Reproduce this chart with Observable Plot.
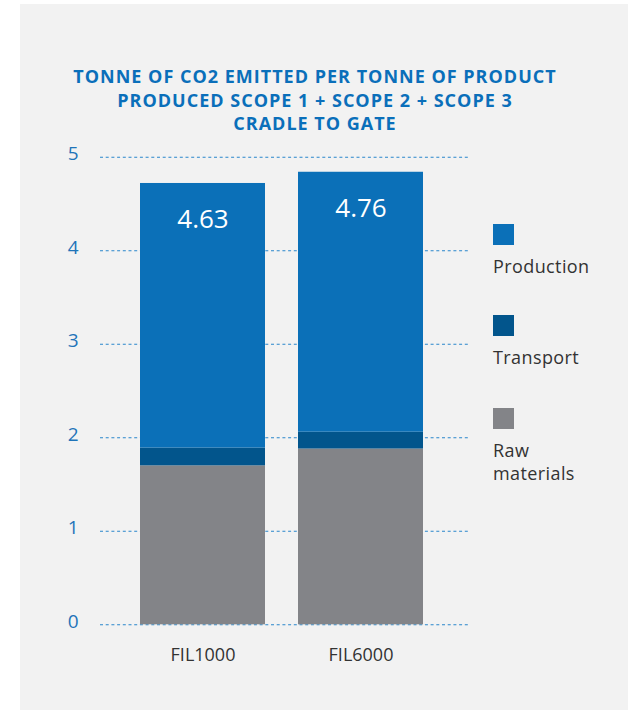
<!DOCTYPE html>
<html>
<head>
<meta charset="utf-8">
<script src="https://cdn.jsdelivr.net/npm/d3@7"></script>
<script src="https://cdn.jsdelivr.net/npm/@observablehq/plot@0.6"></script>
<style>
  html, body { margin: 0; padding: 0; background: #ffffff; }
  body { width: 628px; height: 710px; position: relative; overflow: hidden; font-family: "Open Sans", "Noto Sans", sans-serif; }
  #panel { position: absolute; left: 20px; top: 4px; width: 608px; height: 706px; background: #f2f2f2; }
  #title { position: absolute; left: 20px; width: 550px; top: 61px; text-align: center; color: #0a6fba; font-weight: 700; font-size: 18px; letter-spacing: 1px; line-height: 23.5px; }
  #chart { position: absolute; left: 0px; top: 136px; }
  #legend { position: absolute; left: 473px; top: 220px; }
  .item { position: absolute; left: 0; width: 135px; color: #333333; font-size: 18px; letter-spacing: 0.4px; line-height: 23px; }
  .sw { width: 21px; height: 21px; margin-bottom: 10px; }
</style>
</head>
<body>
<div id="panel">
  <div id="title">TONNE OF CO2 EMITTED PER TONNE OF PRODUCT<br>PRODUCED SCOPE 1 + SCOPE 2 + SCOPE 3<br>CRADLE TO GATE</div>
  <div id="chart"></div>
  <div id="legend"></div>
</div>
<script>
const categories = ["FIL1000", "FIL6000"];
const seriesNames = ["Raw materials", "Transport", "Production"];
const rawMaterials = [1.70, 1.88];
const transport = [0.19, 0.18];
const production = [2.83, 2.78];
const totalLabels = ["4.63", "4.76"];
const yTicks = [0, 1, 2, 3, 4, 5];
const seriesColors = ["#838488", "#02558c", "#0b70b8"];
const legendOrder = ["Production", "Transport", "Raw materials"];
const legendLabels = ["Production", "Transport", "Raw<br>materials"];

const seriesValues = [rawMaterials, transport, production];
const rows = [];
categories.forEach((c, i) => {
  seriesNames.forEach((s, j) => rows.push({category: c, series: s, value: seriesValues[j][i]}));
});
const totals = categories.map((c, i) => ({
  category: c,
  total: rawMaterials[i] + transport[i] + production[i],
  label: totalLabels[i]
}));

const chart = Plot.plot({
  width: 608,
  height: 540,
  marginLeft: 80,
  marginRight: 160,
  marginTop: 16.8,
  marginBottom: 55.7,
  style: {background: "transparent", fontFamily: "'Open Sans', 'Noto Sans', sans-serif"},
  x: {domain: categories, paddingInner: 0.2075, paddingOuter: 0.261, align: 0.47, label: null},
  y: {domain: [0, 5], label: null},
  color: {domain: seriesNames, range: seriesColors},
  marks: [
    Plot.ruleY(yTicks, {stroke: "#2a86cc", strokeWidth: 1.1, strokeDasharray: "3,2.7"}),
    Plot.barY(rows, {x: "category", y: "value", fill: "series"}),
    Plot.text(totals, {x: "category", y: "total", text: "label", dy: 36, fill: "white", fontSize: 26}),
    Plot.axisY({ticks: yTicks, tickSize: 0, tickPadding: 22, fontSize: 19, fill: "#1f74b9", dy: -3, tickFormat: d => String(d)}),
    Plot.axisX({tickSize: 0, tickPadding: 23, fontSize: 18, fill: "#333333"})
  ]
});
document.getElementById("chart").appendChild(chart);

const legend = document.getElementById("legend");
const tops = [0, 91, 184];
legendOrder.forEach((name, k) => {
  const item = document.createElement("div");
  item.className = "item";
  item.style.top = tops[k] + "px";
  const sw = document.createElement("div");
  sw.className = "sw";
  sw.style.background = seriesColors[seriesNames.indexOf(name)];
  item.appendChild(sw);
  const lab = document.createElement("div");
  lab.innerHTML = legendLabels[k];
  item.appendChild(lab);
  legend.appendChild(item);
});
</script>
</body>
</html>
